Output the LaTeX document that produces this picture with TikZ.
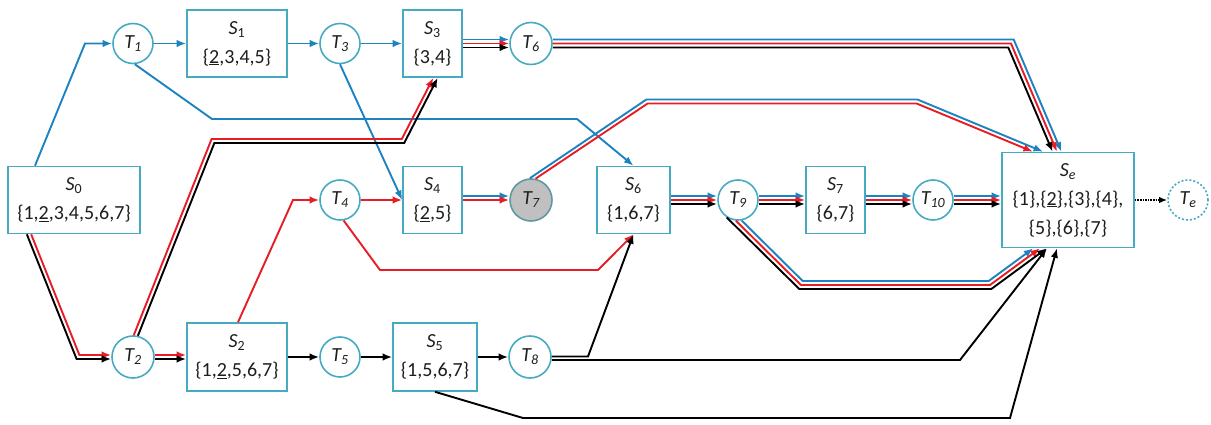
\documentclass[tikz,border=0pt]{standalone}
\usepackage{fontspec}
\setmainfont{Carlito}
\usetikzlibrary{arrows.meta}
\definecolor{aqua}{RGB}{70,170,195}
\definecolor{cblue}{RGB}{28,130,192}
\definecolor{cred}{RGB}{232,28,36}
\definecolor{tgray}{RGB}{192,192,192}
\definecolor{txt}{RGB}{30,30,30}
\begin{document}
\begin{tikzpicture}[x=1pt,y=-1pt,
  font=\fontsize{20}{29}\selectfont,
  sbox/.style={draw=aqua,line width=1.6pt,fill=white,align=center,inner sep=0pt,text=txt},
  tcirc/.style={circle,draw=aqua,line width=1.6pt,fill=white,minimum size=40pt,inner sep=0pt,text=txt},
  edge/.style={line width=1.9pt,-{Latex[length=9.5pt,width=7.5pt]}},
  eb/.style={edge,draw=cblue},
  er/.style={edge,draw=cred},
  ek/.style={edge,draw=black},
]
\useasboundingbox (0,0) rectangle (1211,425);
% state boxes
\node[sbox,minimum width=132pt,minimum height=67pt] (S0) at (74,200) {\textit{S}\textsubscript{0}\\\{1,\underline{2},3,4,5,6,7\}};
\node[sbox,minimum width=100pt,minimum height=67pt] (S1) at (237,43.5) {\textit{S}\textsubscript{1}\\\{\underline{2},3,4,5\}};
\node[sbox,minimum width=59pt,minimum height=67pt] (S3) at (432.5,43.5) {\textit{S}\textsubscript{3}\\\{3,4\}};
\node[sbox,minimum width=59pt,minimum height=67pt] (S4) at (432.5,200) {\textit{S}\textsubscript{4}\\\{\underline{2},5\}};
\node[sbox,minimum width=73pt,minimum height=67pt] (S6) at (633.5,200) {\textit{S}\textsubscript{6}\\\{1,6,7\}};
\node[sbox,minimum width=59pt,minimum height=67pt] (S7) at (835.5,200) {\textit{S}\textsubscript{7}\\\{6,7\}};
\node[sbox,minimum width=132pt,minimum height=95pt] (Se) at (1068,200) {\textit{S}\textsubscript{\textit{e}}\\\{1\},\{\underline{2}\},\{3\},\{4\},\\\{5\},\{6\},\{7\}};
\node[sbox,minimum width=100pt,minimum height=68pt] (S2) at (237,357) {\textit{S}\textsubscript{2}\\\{1,\underline{2},5,6,7\}};
\node[sbox,minimum width=84pt,minimum height=68pt] (S5) at (435,357) {\textit{S}\textsubscript{5}\\\{1,5,6,7\}};
% transition circles
\node[tcirc] (T1) at (133,43.5) {\textit{T\textsubscript{1}}};
\node[tcirc] (T3) at (340,43.5) {\textit{T\textsubscript{3}}};
\node[tcirc,minimum size=42pt] (T6) at (531,43.5) {\textit{T\textsubscript{6}}};
\node[tcirc] (T4) at (340,200) {\textit{T\textsubscript{4}}};
\node[tcirc,minimum size=42pt,fill=tgray,draw=aqua!55!gray] (T7) at (531,200) {\textit{T\textsubscript{7}}};
\node[tcirc] (T9) at (738,200) {\textit{T\textsubscript{9}}};
\node[tcirc] (T10) at (933,200) {\textit{T\textsubscript{10}}};
\node[tcirc,dash pattern=on 2pt off 2pt] (Te) at (1188,200) {\textit{T\textsubscript{e}}};
\node[tcirc,minimum size=42pt] (T2) at (133,357) {\textit{T\textsubscript{2}}};
\node[tcirc] (T5) at (340,357) {\textit{T\textsubscript{5}}};
\node[tcirc,minimum size=42pt] (T8) at (530,357) {\textit{T\textsubscript{8}}};
% top row
\draw[eb] ([xshift=-39pt]S0.north) -- (85,43.5) -- (T1.west);
\draw[eb] (T1.east) -- (S1.west);
\draw[eb] (S1.east) -- (T3.west);
\draw[eb] (T3.east) -- (S3.west);
\draw[eb] ([yshift=4pt]S3.east) -- ([yshift=4pt]T6.west);
\draw[er] (S3.east) -- (T6.west);
\draw[ek] ([yshift=-4pt]S3.east) -- ([yshift=-4pt]T6.west);
% T6 -> Se
\draw[eb] ([yshift=4pt]T6.east) -- (1013.7,39.5) -- ([xshift=-6.6pt]Se.north);
\draw[er] (T6.east) -- (1011,43.5) -- ([xshift=-11pt]Se.north);
\draw[ek] ([yshift=-4pt]T6.east) -- (1008.3,47.5) -- ([xshift=-15.4pt]Se.north);
% T1 -> S6, T3 -> S4
\draw[eb] (T1.-85) -- (212,119) -- (577,119) -- (S6.north);
\draw[eb] (T3.south) -- (S4.west);
% red via T4
\draw[er] (T4.east) -- (S4.west);
\draw[er] ([xshift=1pt]S2.north) -- (293,200) -- (T4.west);
\draw[er] (T4.-80) -- (380,270) -- (598,270) -- (S6.south);
% S4 -> T7
\draw[eb] ([yshift=4pt]S4.east) -- ([yshift=4pt]T7.west);
\draw[er] (S4.east) -- (T7.west);
% T7 -> Se
\draw[eb] (T7.93) -- (646.4,99.5) -- (917.4,99.5) -- ([xshift=-24.9pt]Se.north);
\draw[er] (T7.78) -- (647.6,103.5) -- (916.6,103.5) -- ([xshift=-35.1pt]Se.north);
% middle triples
\foreach \a/\b in {S6/T9,T9/S7,S7/T10,T10/Se}{
  \draw[eb] ([yshift=4pt]\a.east) -- ([yshift=4pt]\b.west);
  \draw[er] (\a.east) -- (\b.west);
  \draw[ek] ([yshift=-4pt]\a.east) -- ([yshift=-4pt]\b.west);
}
\draw[ek,line width=1.6pt,densely dotted,-{Latex[length=8pt,width=6.5pt]}] (Se.east) -- (Te.west);
% T9 -> Se lower
\draw[eb] (T9.-80) -- (802.7,281) -- (988.7,281) -- ([xshift=-34.7pt]Se.south);
\draw[er] (T9.-96) -- (801,285) -- (990,285) -- ([xshift=-28pt]Se.south);
\draw[ek] (T9.-123) -- (799.3,289) -- (991.3,289) -- ([xshift=-21.3pt]Se.south);
% S0 -> T2
\draw[er] ([xshift=-42.85pt]S0.south) -- (79.4,355) -- ([yshift=2pt]T2.west);
\draw[ek] ([xshift=-47.15pt]S0.south) -- (76.6,359) -- ([yshift=-2pt]T2.west);
% T2 -> S2
\draw[er] ([yshift=2pt]T2.east) -- ([yshift=2pt]S2.west);
\draw[ek] ([yshift=-2pt]T2.east) -- ([yshift=-2pt]S2.west);
% T2 -> S3
\draw[er] (T2.88) -- (211.6,139) -- (401.8,139) -- ([xshift=0.8pt]S3.south);
\draw[ek] (T2.77) -- (214.4,143) -- (404.2,143) -- ([xshift=5.2pt]S3.south);
% bottom row
\draw[ek] (S2.east) -- (T5.west);
\draw[ek] (T5.east) -- (S5.west);
\draw[ek] (S5.east) -- (T8.west);
\draw[ek] ([yshift=0.5pt]T8.east) -- (588,356.5) -- (S6.south);
\draw[ek] ([yshift=-3pt]T8.east) -- (960,360) -- ([xshift=-21pt]Se.south);
\draw[ek] (S5.south) -- (523,418) -- (1010,418) -- ([xshift=-11pt]Se.south);
\end{tikzpicture}
\end{document}
